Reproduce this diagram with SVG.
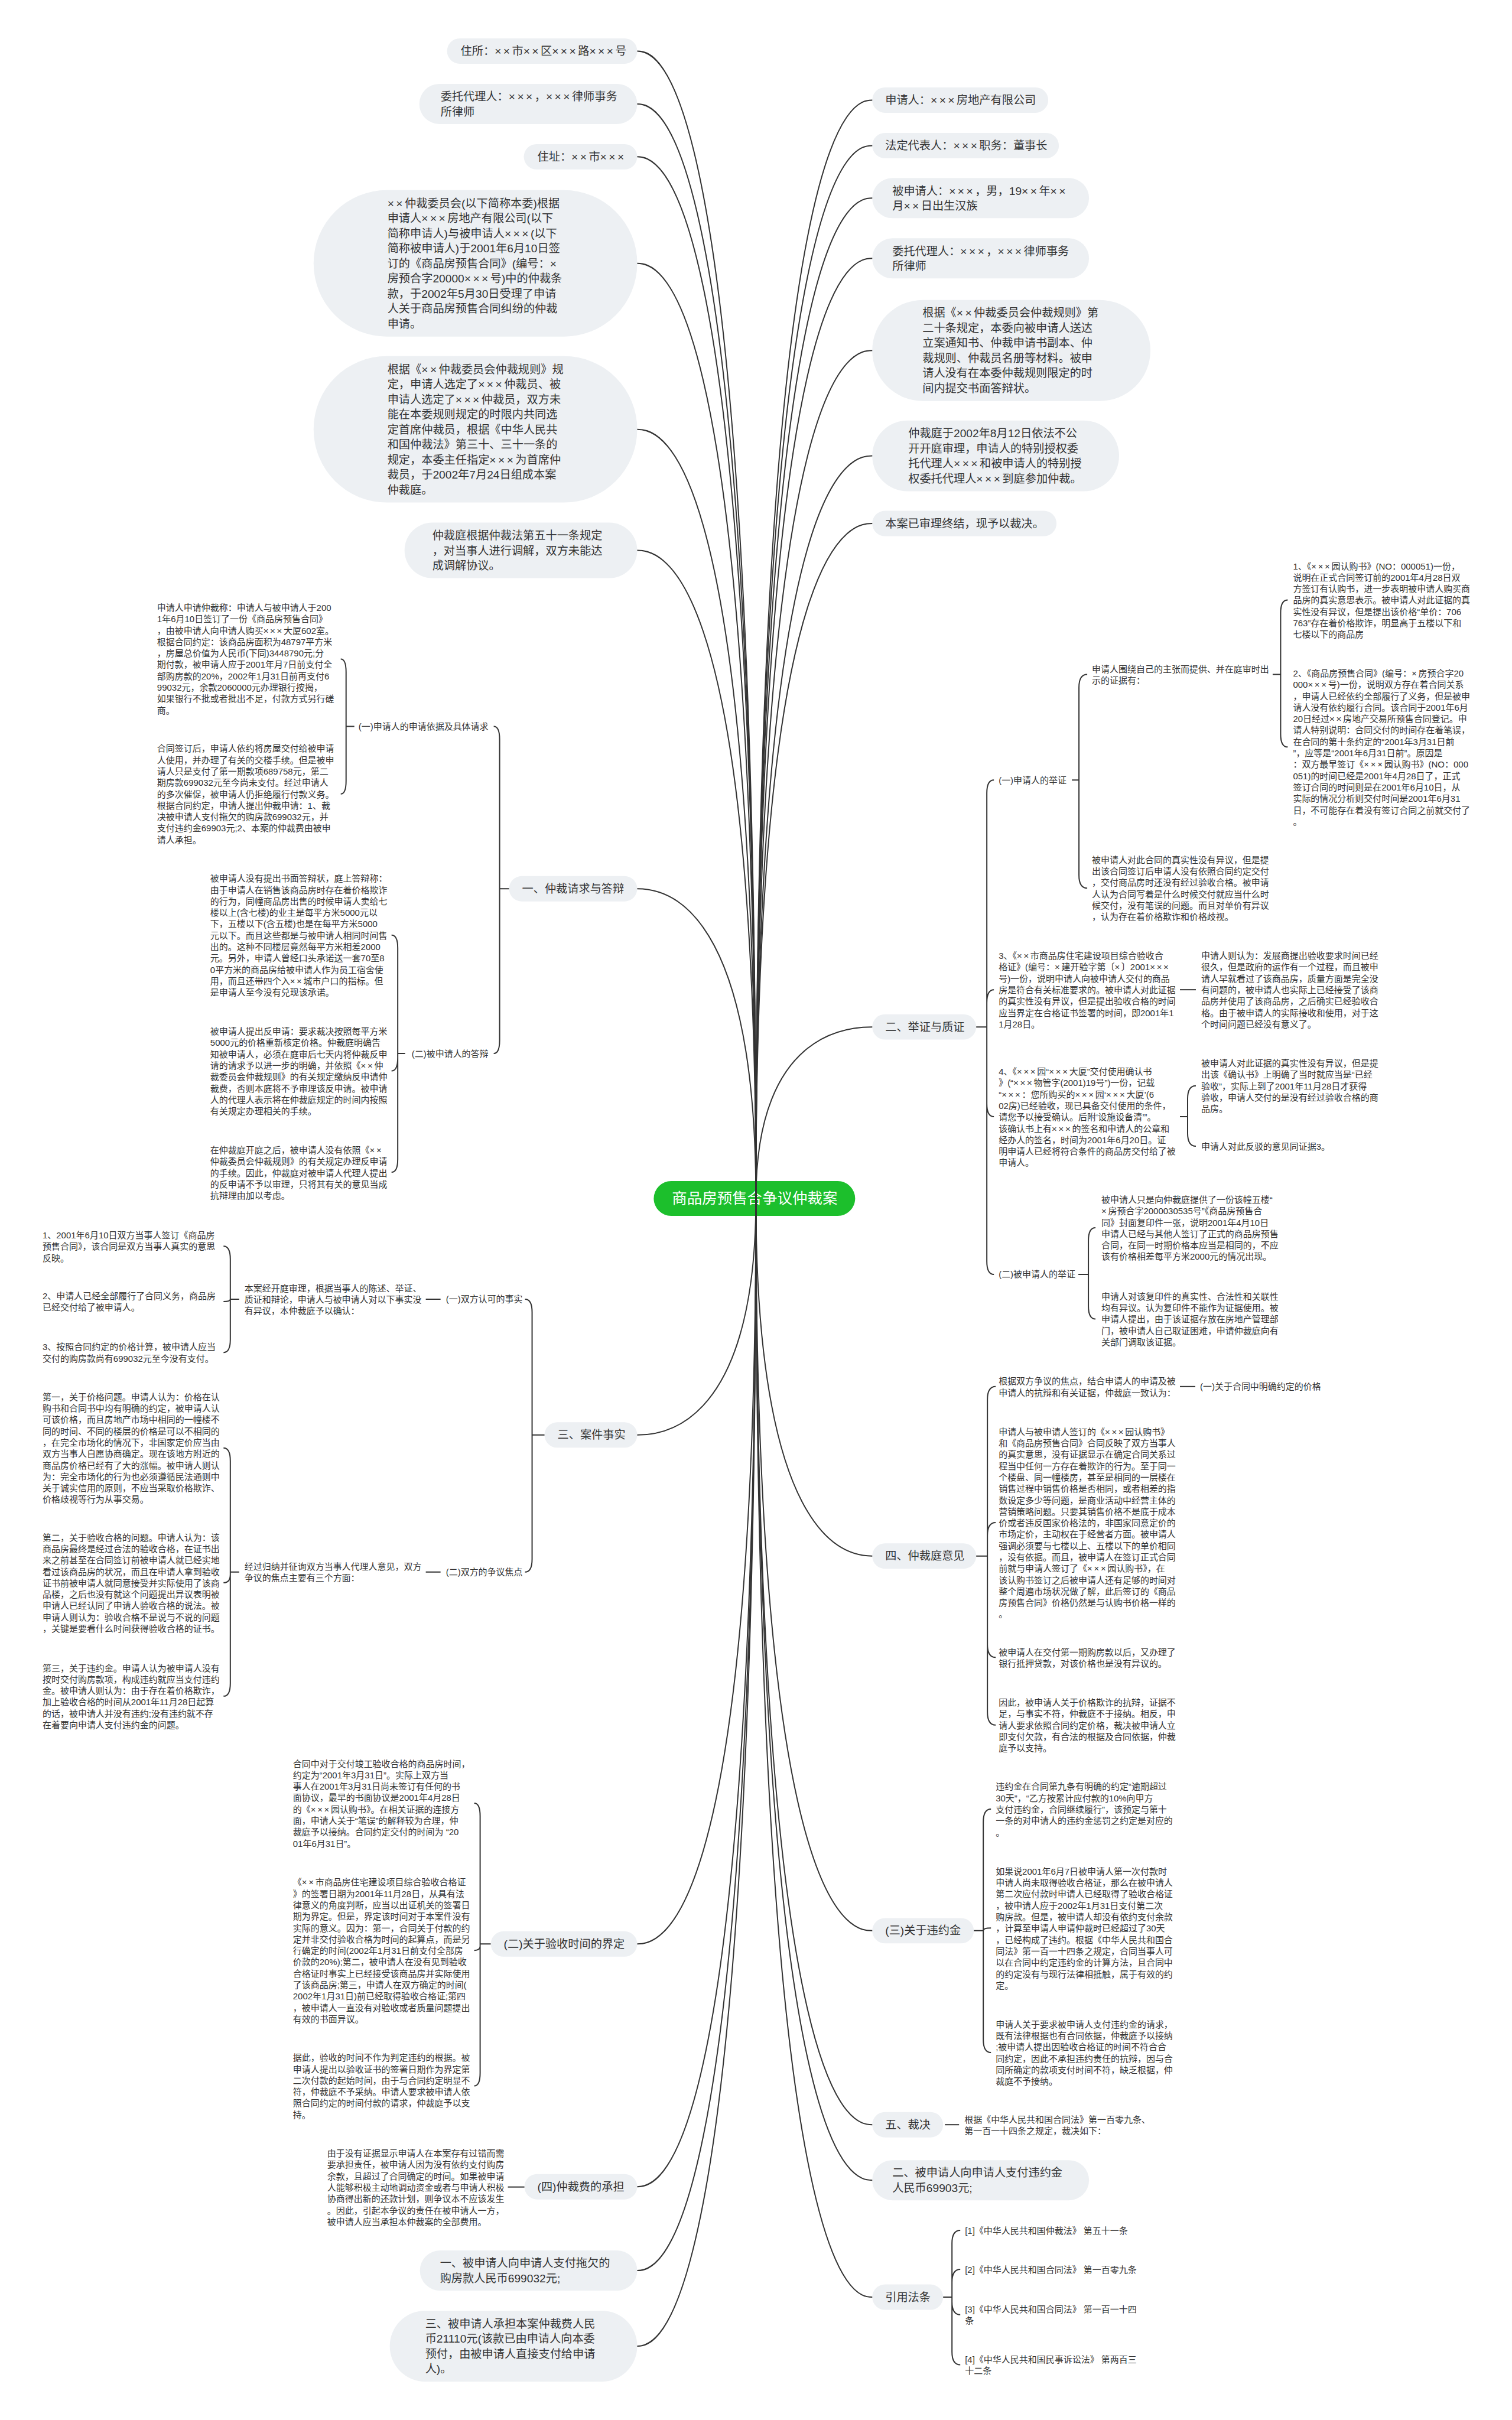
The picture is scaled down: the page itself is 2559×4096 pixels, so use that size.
<svg xmlns="http://www.w3.org/2000/svg" width="2559" height="4096" viewBox="0 0 2559 4096">
<style>
text{font-family:"Liberation Sans","Noto Sans CJK SC",sans-serif;fill:#333;dominant-baseline:central}
.b{font-size:19.2px}
.s{font-size:15px}
.e{text-anchor:end}
.x{letter-spacing:.18em}
.r{font-size:25.5px;fill:#fff;text-anchor:middle}
.n{fill:#edf0f3}
.c path{fill:none;stroke:#333;stroke-width:2}
</style>
<rect width="2559" height="4096" fill="#fff"/>
<g transform="scale(0.9995)">
<g id="root"><rect x="1107" y="2000" width="341" height="59" rx="29.5" fill="#1cbf2c"/><text class="r" x="1278" y="2029.5">商品房预售合争议仲裁案</text></g>

<g id="L1"><rect class="n" x="757" y="65" width="322" height="43" rx="21.5"/><text class="b" x="780" y="86.5">住所：<tspan class="x">××</tspan>市<tspan class="x">××</tspan>区<tspan class="x">×××</tspan>路<tspan class="x">×××</tspan>号</text></g>
<g id="L2"><rect class="n" x="710" y="142" width="369" height="68" rx="34"/><text class="b"><tspan x="746" y="163.25">委托代理人：<tspan class="x">×××</tspan>，<tspan class="x">×××</tspan>律师事务</tspan><tspan x="746" y="188.75">所律师</tspan></text></g>
<g id="L3"><rect class="n" x="887" y="244" width="192" height="43" rx="21.5"/><text class="b" x="910" y="265.5">住址：<tspan class="x">××</tspan>市<tspan class="x">×××</tspan></text></g>
<g id="L4"><rect class="n" x="531" y="322" width="548" height="248" rx="124"/><text class="b"><tspan x="656" y="344"><tspan class="x">××</tspan>仲裁委员会(以下简称本委)根据</tspan><tspan x="656" y="369.5">申请人<tspan class="x">×××</tspan>房地产有限公司(以下</tspan><tspan x="656" y="395">简称申请人)与被申请人<tspan class="x">×××</tspan>(以下</tspan><tspan x="656" y="420.5">简称被申请人)于2001年6月10日签</tspan><tspan x="656" y="446">订的《商品房预售合同》(编号：<tspan class="x">×</tspan></tspan><tspan x="656" y="471.5">房预合字20000<tspan class="x">×××</tspan>号)中的仲裁条</tspan><tspan x="656" y="497">款，于2002年5月30日受理了申请</tspan><tspan x="656" y="522.5">人关于商品房预售合同纠纷的仲裁</tspan><tspan x="656" y="548">申请。</tspan></text></g>
<g id="L5"><rect class="n" x="531" y="603" width="548" height="248" rx="124"/><text class="b"><tspan x="656" y="625">根据《<tspan class="x">××</tspan>仲裁委员会仲裁规则》规</tspan><tspan x="656" y="650.5">定，申请人选定了<tspan class="x">×××</tspan>仲裁员、被</tspan><tspan x="656" y="676">申请人选定了<tspan class="x">×××</tspan>仲裁员，双方未</tspan><tspan x="656" y="701.5">能在本委规则规定的时限内共同选</tspan><tspan x="656" y="727">定首席仲裁员，根据《中华人民共</tspan><tspan x="656" y="752.5">和国仲裁法》第三十、三十一条的</tspan><tspan x="656" y="778">规定，本委主任指定<tspan class="x">×××</tspan>为首席仲</tspan><tspan x="656" y="803.5">裁员，于2002年7月24日组成本案</tspan><tspan x="656" y="829">仲裁庭。</tspan></text></g>
<g id="L6"><rect class="n" x="685" y="885" width="394" height="94" rx="47"/><text class="b"><tspan x="732" y="906.5">仲裁庭根据仲裁法第五十一条规定</tspan><tspan x="732" y="932">，对当事人进行调解，双方未能达</tspan><tspan x="732" y="957.5">成调解协议。</tspan></text></g>

<g id="L7"><rect class="n" x="862" y="1483.5" width="217" height="43" rx="21.5"/><text class="b" x="884" y="1505">一、仲裁请求与答辩</text></g>
<g id="L7a"><text class="s e" x="827" y="1230">(一)申请人的申请依据及具体请求</text></g>
<g id="L7a1"><text class="s"><tspan x="266" y="1028.5">申请人申请仲裁称：申请人与被申请人于200</tspan><tspan x="266" y="1047.8">1年6月10日签订了一份《商品房预售合同》</tspan><tspan x="266" y="1067.1">，由被申请人向申请人购买<tspan class="x">×××</tspan>大厦602室。</tspan><tspan x="266" y="1086.4">根据合同约定：该商品房面积为48797平方米</tspan><tspan x="266" y="1105.7">，房屋总价值为人民币(下同)3448790元;分</tspan><tspan x="266" y="1125">期付款，被申请人应于2001年月7日前支付全</tspan><tspan x="266" y="1144.3">部购房款的20%，2002年1月31日前再支付6</tspan><tspan x="266" y="1163.6">99032元，余款2060000元办理银行按揭，</tspan><tspan x="266" y="1182.9">如果银行不批或者批出不足，付款方式另行磋</tspan><tspan x="266" y="1202.2">商。</tspan></text></g>
<g id="L7a2"><text class="s"><tspan x="266" y="1267">合同签订后，申请人依约将房屋交付给被申请</tspan><tspan x="266" y="1286.3">人使用，并办理了有关的交楼手续。但是被申</tspan><tspan x="266" y="1305.6">请人只是支付了第一期款项689758元，第二</tspan><tspan x="266" y="1324.9">期房款699032元至今尚未支付。经过申请人</tspan><tspan x="266" y="1344.2">的多次催促，被申请人仍拒绝履行付款义务。</tspan><tspan x="266" y="1363.5">根据合同约定，申请人提出仲裁申请：1、裁</tspan><tspan x="266" y="1382.8">决被申请人支付拖欠的购房款699032元，并</tspan><tspan x="266" y="1402.1">支付违约金69903元;2、本案的仲裁费由被申</tspan><tspan x="266" y="1421.4">请人承担。</tspan></text></g>
<g id="L7b"><text class="s e" x="827" y="1784">(二)被申请人的答辩</text></g>
<g id="L7b1"><text class="s"><tspan x="356" y="1487">被申请人没有提出书面答辩状，庭上答辩称：</tspan><tspan x="356" y="1506.3">由于申请人在销售该商品房时存在着价格欺诈</tspan><tspan x="356" y="1525.6">的行为，同幢商品房出售的时候申请人卖给七</tspan><tspan x="356" y="1544.9">楼以上(含七楼)的业主是每平方米5000元以</tspan><tspan x="356" y="1564.2">下，五楼以下(含五楼)也是在每平方米5000</tspan><tspan x="356" y="1583.5">元以下。而且这些都是与被申请人相同时间售</tspan><tspan x="356" y="1602.8">出的。这种不同楼层竟然每平方米相差2000</tspan><tspan x="356" y="1622.1">元。另外，申请人曾经口头承诺送一套70至8</tspan><tspan x="356" y="1641.4">0平方米的商品房给被申请人作为员工宿舍使</tspan><tspan x="356" y="1660.7">用，而且还带四个入<tspan class="x">××</tspan>城市户口的指标。但</tspan><tspan x="356" y="1680">是申请人至今没有兑现该承诺。</tspan></text></g>
<g id="L7b2"><text class="s"><tspan x="356" y="1746">被申请人提出反申请：要求裁决按照每平方米</tspan><tspan x="356" y="1765.3">5000元的价格重新核定价格。仲裁庭明确告</tspan><tspan x="356" y="1784.6">知被申请人，必须在庭审后七天内将仲裁反申</tspan><tspan x="356" y="1803.9">请的请求予以进一步的明确，并依照《<tspan class="x">××</tspan>仲</tspan><tspan x="356" y="1823.2">裁委员会仲裁规则》的有关规定缴纳反申请仲</tspan><tspan x="356" y="1842.5">裁费，否则本庭将不予审理该反申请。被申请</tspan><tspan x="356" y="1861.8">人的代理人表示将在仲裁庭规定的时间内按照</tspan><tspan x="356" y="1881.1">有关规定办理相关的手续。</tspan></text></g>
<g id="L7b3"><text class="s"><tspan x="356" y="1947">在仲裁庭开庭之后，被申请人没有依照《<tspan class="x">××</tspan></tspan><tspan x="356" y="1966.3">仲裁委员会仲裁规则》的有关规定办理反申请</tspan><tspan x="356" y="1985.6">的手续。因此，仲裁庭对被申请人代理人提出</tspan><tspan x="356" y="2004.9">的反申请不予以审理，只将其有关的意见当成</tspan><tspan x="356" y="2024.2">抗辩理由加以考虑。</tspan></text></g>

<g id="L8"><rect class="n" x="922" y="2408.5" width="157" height="43" rx="21.5"/><text class="b" x="944" y="2430">三、案件事实</text></g>
<g id="L8a"><text class="s e" x="885" y="2200">(一)双方认可的事实</text></g>
<g id="L8a0"><text class="s"><tspan x="414" y="2180.7">本案经开庭审理，根据当事人的陈述、举证、</tspan><tspan x="414" y="2200">质证和辩论，申请人与被申请人对以下事实没</tspan><tspan x="414" y="2219.3">有异议，本仲裁庭予以确认：</tspan></text></g>
<g id="L8a1"><text class="s"><tspan x="72" y="2091">1、2001年6月10日双方当事人签订《商品房</tspan><tspan x="72" y="2110.3">预售合同》，该合同是双方当事人真实的意思</tspan><tspan x="72" y="2129.6">反映。</tspan></text></g>
<g id="L8a2"><text class="s"><tspan x="72" y="2194.3">2、申请人已经全部履行了合同义务，商品房</tspan><tspan x="72" y="2213.6">已经交付给了被申请人。</tspan></text></g>
<g id="L8a3"><text class="s"><tspan x="72" y="2280.6">3、按照合同约定的价格计算，被申请人应当</tspan><tspan x="72" y="2299.9">交付的购房款尚有699032元至今没有支付。</tspan></text></g>
<g id="L8b"><text class="s e" x="885" y="2662">(二)双方的争议焦点</text></g>
<g id="L8b0"><text class="s"><tspan x="414" y="2652.4">经过归纳并征询双方当事人代理人意见，双方</tspan><tspan x="414" y="2671.7">争议的焦点主要有三个方面：</tspan></text></g>
<g id="L8b1"><text class="s"><tspan x="72" y="2365">第一，关于价格问题。申请人认为：价格在认</tspan><tspan x="72" y="2384.3">购书和合同书中均有明确的约定，被申请人认</tspan><tspan x="72" y="2403.6">可该价格，而且房地产市场中相同的一幢楼不</tspan><tspan x="72" y="2422.9">同的时间、不同的楼层的价格是可以不相同的</tspan><tspan x="72" y="2442.2">，在完全市场化的情况下，非国家定价应当由</tspan><tspan x="72" y="2461.5">双方当事人自愿协商确定。现在该地方附近的</tspan><tspan x="72" y="2480.8">商品房价格已经有了大的涨幅。被申请人则认</tspan><tspan x="72" y="2500.1">为：完全市场化的行为也必须遵循民法通则中</tspan><tspan x="72" y="2519.4">关于诚实信用的原则，不应当采取价格欺诈、</tspan><tspan x="72" y="2538.7">价格歧视等行为从事交易。</tspan></text></g>
<g id="L8b2"><text class="s"><tspan x="72" y="2603">第二，关于验收合格的问题。申请人认为：该</tspan><tspan x="72" y="2622.3">商品房最终是经过合法的验收合格，在证书出</tspan><tspan x="72" y="2641.6">来之前甚至在合同签订前被申请人就已经实地</tspan><tspan x="72" y="2660.9">看过该商品房的状况，而且在申请人拿到验收</tspan><tspan x="72" y="2680.2">证书前被申请人就同意接受并实际使用了该商</tspan><tspan x="72" y="2699.5">品楼，之后也没有就这个问题提出异议表明被</tspan><tspan x="72" y="2718.8">申请人已经认同了申请人验收合格的说法。被</tspan><tspan x="72" y="2738.1">申请人则认为：验收合格不是说与不说的问题</tspan><tspan x="72" y="2757.4">，关键是要看什么时间获得验收合格的证书。</tspan></text></g>
<g id="L8b3"><text class="s"><tspan x="72" y="2824">第三，关于违约金。申请人认为被申请人没有</tspan><tspan x="72" y="2843.3">按时交付购房款项，构成违约就应当支付违约</tspan><tspan x="72" y="2862.6">金。被申请人则认为：由于存在着价格欺诈，</tspan><tspan x="72" y="2881.9">加上验收合格的时间从2001年11月28日起算</tspan><tspan x="72" y="2901.2">的话，被申请人并没有违约;没有违约就不存</tspan><tspan x="72" y="2920.5">在着要向申请人支付违约金的问题。</tspan></text></g>

<g id="L9"><rect class="n" x="831" y="3270.5" width="248" height="43" rx="21.5"/><text class="b" x="853" y="3292">(二)关于验收时间的界定</text></g>
<g id="L9a"><text class="s"><tspan x="496" y="2986">合同中对于交付竣工验收合格的商品房时间，</tspan><tspan x="496" y="3005.3">约定为“2001年3月31日”。实际上双方当</tspan><tspan x="496" y="3024.6">事人在2001年3月31日尚未签订有任何的书</tspan><tspan x="496" y="3043.9">面协议，最早的书面协议是2001年4月28日</tspan><tspan x="496" y="3063.2">的《<tspan class="x">×××</tspan>园认购书》。在相关证据的连接方</tspan><tspan x="496" y="3082.5">面，申请人关于“笔误”的解释较为合理，仲</tspan><tspan x="496" y="3101.8">裁庭予以接纳。合同约定交付的时间为 “20</tspan><tspan x="496" y="3121.1">01年6月31日”。</tspan></text></g>
<g id="L9b"><text class="s"><tspan x="496" y="3187">《<tspan class="x">××</tspan>市商品房住宅建设项目综合验收合格证</tspan><tspan x="496" y="3206.3">》的签署日期为2001年11月28日，从具有法</tspan><tspan x="496" y="3225.6">律意义的角度判断，应当以出证机关的签署日</tspan><tspan x="496" y="3244.9">期为界定。但是，界定该时间对于本案件没有</tspan><tspan x="496" y="3264.2">实际的意义。因为：第一，合同关于付款的约</tspan><tspan x="496" y="3283.5">定并非交付验收合格为时间的起算点，而是另</tspan><tspan x="496" y="3302.8">行确定的时间(2002年1月31日前支付全部房</tspan><tspan x="496" y="3322.1">价款的20%);第二，被申请人在没有见到验收</tspan><tspan x="496" y="3341.4">合格证时事实上已经接受该商品房并实际使用</tspan><tspan x="496" y="3360.7">了该商品房;第三，申请人在双方确定的时间(</tspan><tspan x="496" y="3380">2002年1月31日)前已经取得验收合格证;第四</tspan><tspan x="496" y="3399.3">，被申请人一直没有对验收或者质量问题提出</tspan><tspan x="496" y="3418.6">有效的书面异议。</tspan></text></g>
<g id="L9c"><text class="s"><tspan x="496" y="3484">据此，验收的时间不作为判定违约的根据。被</tspan><tspan x="496" y="3503.3">申请人提出以验收证书的签署日期作为界定第</tspan><tspan x="496" y="3522.6">二次付款的起始时间，由于与合同约定明显不</tspan><tspan x="496" y="3541.9">符，仲裁庭不予采纳。申请人要求被申请人依</tspan><tspan x="496" y="3561.2">照合同约定的时间付款的请求，仲裁庭予以支</tspan><tspan x="496" y="3580.5">持。</tspan></text></g>

<g id="L10"><rect class="n" x="888" y="3681.5" width="191" height="43" rx="21.5"/><text class="b" x="910" y="3703">(四)仲裁费的承担</text></g>
<g id="L10a"><text class="s"><tspan x="554" y="3646">由于没有证据显示申请人在本案存有过错而需</tspan><tspan x="554" y="3665.3">要承担责任，被申请人因为没有依约支付购房</tspan><tspan x="554" y="3684.6">余款，且超过了合同确定的时间。如果被申请</tspan><tspan x="554" y="3703.9">人能够积极主动地调动资金或者与申请人积极</tspan><tspan x="554" y="3723.2">协商得出新的还款计划，则争议本不应该发生</tspan><tspan x="554" y="3742.5">。因此，引起本争议的责任在被申请人一方，</tspan><tspan x="554" y="3761.8">被申请人应当承担本仲裁案的全部费用。</tspan></text></g>
<g id="L11"><rect class="n" x="711" y="3811" width="368" height="68" rx="34"/><text class="b"><tspan x="745" y="3832.25">一、被申请人向申请人支付拖欠的</tspan><tspan x="745" y="3857.75">购房款人民币699032元;</tspan></text></g>
<g id="L12"><rect class="n" x="660" y="3913" width="419" height="120" rx="60"/><text class="b"><tspan x="720" y="3934.75">三、被申请人承担本案仲裁费人民</tspan><tspan x="720" y="3960.25">币21110元(该款已由申请人向本委</tspan><tspan x="720" y="3985.75">预付，由被申请人直接支付给申请</tspan><tspan x="720" y="4011.25">人)。</tspan></text></g>

<g id="R1"><rect class="n" x="1477" y="148" width="298" height="43" rx="21.5"/><text class="b" x="1499" y="169.5">申请人：<tspan class="x">×××</tspan>房地产有限公司</text></g>
<g id="R2"><rect class="n" x="1477" y="225" width="316" height="43" rx="21.5"/><text class="b" x="1499" y="246.5">法定代表人：<tspan class="x">×××</tspan>职务：董事长</text></g>
<g id="R3"><rect class="n" x="1477" y="301.5" width="367" height="68" rx="34"/><text class="b"><tspan x="1511" y="322.75">被申请人：<tspan class="x">×××</tspan>，男，19<tspan class="x">××</tspan>年<tspan class="x">××</tspan></tspan><tspan x="1511" y="348.25">月<tspan class="x">××</tspan>日出生汉族</tspan></text></g>
<g id="R4"><rect class="n" x="1477" y="403.5" width="367" height="68" rx="34"/><text class="b"><tspan x="1511" y="424.75">委托代理人：<tspan class="x">×××</tspan>，<tspan class="x">×××</tspan>律师事务</tspan><tspan x="1511" y="450.25">所律师</tspan></text></g>
<g id="R5"><rect class="n" x="1477" y="508" width="471" height="171" rx="85.5"/><text class="b"><tspan x="1562" y="529.75">根据《<tspan class="x">××</tspan>仲裁委员会仲裁规则》第</tspan><tspan x="1562" y="555.25">二十条规定，本委向被申请人送达</tspan><tspan x="1562" y="580.75">立案通知书、仲裁申请书副本、仲</tspan><tspan x="1562" y="606.25">裁规则、仲裁员名册等材料。被申</tspan><tspan x="1562" y="631.75">请人没有在本委仲裁规则限定的时</tspan><tspan x="1562" y="657.25">间内提交书面答辩状。</tspan></text></g>
<g id="R6"><rect class="n" x="1477" y="712" width="418" height="120" rx="60"/><text class="b"><tspan x="1538" y="733.75">仲裁庭于2002年8月12日依法不公</tspan><tspan x="1538" y="759.25">开开庭审理，申请人的特别授权委</tspan><tspan x="1538" y="784.75">托代理人<tspan class="x">×××</tspan>和被申请人的特别授</tspan><tspan x="1538" y="810.25">权委托代理人<tspan class="x">×××</tspan>到庭参加仲裁。</tspan></text></g>
<g id="R7"><rect class="n" x="1477" y="865" width="312" height="43" rx="21.5"/><text class="b" x="1499" y="886.5">本案已审理终结，现予以裁决。</text></g>

<g id="R8"><rect class="n" x="1477" y="1717.5" width="176" height="43" rx="21.5"/><text class="b" x="1499" y="1739">二、举证与质证</text></g>
<g id="R8a"><text class="s" x="1691" y="1321">(一)申请人的举证</text></g>
<g id="R8a1"><text class="s"><tspan x="1849" y="1132.4">申请人围绕自己的主张而提供、并在庭审时出</tspan><tspan x="1849" y="1151.7">示的证据有：</tspan></text></g>
<g id="R8a1i"><text class="s"><tspan x="2189.5" y="958">1、《<tspan class="x">×××</tspan>园认购书》(NO：000051)一份，</tspan><tspan x="2189.5" y="977.3">说明在正式合同签订前的2001年4月28日双</tspan><tspan x="2189.5" y="996.6">方签订有认购书，进一步表明被申请人购买商</tspan><tspan x="2189.5" y="1015.9">品房的真实意思表示。被申请人对此证据的真</tspan><tspan x="2189.5" y="1035.2">实性没有异议，但是提出该价格“单价：706</tspan><tspan x="2189.5" y="1054.5">763”存在着价格欺诈，明显高于五楼以下和</tspan><tspan x="2189.5" y="1073.8">七楼以下的商品房</tspan></text></g>
<g id="R8a1ii"><text class="s"><tspan x="2189.5" y="1139.6">2、《商品房预售合同》(编号：<tspan class="x">×</tspan>房预合字20</tspan><tspan x="2189.5" y="1158.9">000<tspan class="x">×××</tspan>号)一份，说明双方存在着合同关系</tspan><tspan x="2189.5" y="1178.2">，申请人已经依约全部履行了义务，但是被申</tspan><tspan x="2189.5" y="1197.5">请人没有依约履行合同。该合同于2001年6月</tspan><tspan x="2189.5" y="1216.8">20日经过<tspan class="x">××</tspan>房地产交易所预售合同登记。申</tspan><tspan x="2189.5" y="1236.1">请人特别说明：合同交付的时间存在着笔误，</tspan><tspan x="2189.5" y="1255.4">在合同的第十条约定的“2001年3月31日前</tspan><tspan x="2189.5" y="1274.7">”，应等是“2001年6月31日前”。原因是</tspan><tspan x="2189.5" y="1294">：双方最早签订《<tspan class="x">×××</tspan>园认购书》(NO：000</tspan><tspan x="2189.5" y="1313.3">051)的时间已经是2001年4月28日了，正式</tspan><tspan x="2189.5" y="1332.6">签订合同的时间则是在2001年6月10日，从</tspan><tspan x="2189.5" y="1351.9">实际的情况分析则交付时间是2001年6月31</tspan><tspan x="2189.5" y="1371.2">日，不可能存在着没有签订合同之前就交付了</tspan><tspan x="2189.5" y="1390.5">。</tspan></text></g>
<g id="R8a2"><text class="s"><tspan x="1849" y="1455.6">被申请人对此合同的真实性没有异议，但是提</tspan><tspan x="1849" y="1474.9">出该合同签订后申请人没有依照合同约定交付</tspan><tspan x="1849" y="1494.2">，交付商品房时还没有经过验收合格。被申请</tspan><tspan x="1849" y="1513.5">人认为合同写着是什么时候交付就应当什么时</tspan><tspan x="1849" y="1532.8">候交付，没有笔误的问题。而且对单价有异议</tspan><tspan x="1849" y="1552.1">，认为存在着价格欺诈和价格歧视。</tspan></text></g>
<g id="R8b"><text class="s"><tspan x="1691" y="1618">3、《<tspan class="x">××</tspan>市商品房住宅建设项目综合验收合</tspan><tspan x="1691" y="1637.3">格证》(编号：<tspan class="x">×</tspan>建开验字第〔<tspan class="x">×</tspan>〕2001<tspan class="x">×××</tspan></tspan><tspan x="1691" y="1656.6">号)一份，说明申请人向被申请人交付的商品</tspan><tspan x="1691" y="1675.9">房是符合有关标准要求的。被申请人对此证据</tspan><tspan x="1691" y="1695.2">的真实性没有异议，但是提出验收合格的时间</tspan><tspan x="1691" y="1714.5">应当界定在合格证书签署的时间，即2001年1</tspan><tspan x="1691" y="1733.8">1月28日。</tspan></text></g>
<g id="R8b1"><text class="s"><tspan x="2034" y="1618">申请人则认为：发展商提出验收要求时间已经</tspan><tspan x="2034" y="1637.3">很久，但是政府的运作有一个过程，而且被申</tspan><tspan x="2034" y="1656.6">请人早就看过了该商品房，质量方面是完全没</tspan><tspan x="2034" y="1675.9">有问题的，被申请人也实际上已经接受了该商</tspan><tspan x="2034" y="1695.2">品房并使用了该商品房，之后确实已经验收合</tspan><tspan x="2034" y="1714.5">格。由于被申请人的实际接收和使用，对于这</tspan><tspan x="2034" y="1733.8">个时间问题已经没有意义了。</tspan></text></g>
<g id="R8c"><text class="s"><tspan x="1691" y="1814">4、《<tspan class="x">×××</tspan>园“<tspan class="x">×××</tspan>大厦”交付使用确认书</tspan><tspan x="1691" y="1833.3">》(“<tspan class="x">×××</tspan>物管字(2001)19号”)一份，记载</tspan><tspan x="1691" y="1852.6">“<tspan class="x">×××</tspan>：您所购买的<tspan class="x">×××</tspan>园‘<tspan class="x">×××</tspan>大厦’(6</tspan><tspan x="1691" y="1871.9">02房)已经验收，现已具备交付使用的条件，</tspan><tspan x="1691" y="1891.2">请您予以接受确认。后附‘设施设备清’”。</tspan><tspan x="1691" y="1910.5">该确认书上有<tspan class="x">×××</tspan>的签名和申请人的公章和</tspan><tspan x="1691" y="1929.8">经办人的签名，时间为2001年6月20日。证</tspan><tspan x="1691" y="1949.1">明申请人已经将符合条件的商品房交付给了被</tspan><tspan x="1691" y="1968.4">申请人。</tspan></text></g>
<g id="R8c1"><text class="s"><tspan x="2034" y="1800">被申请人对此证据的真实性没有异议，但是提</tspan><tspan x="2034" y="1819.3">出该《确认书》上明确了当时就应当是“已经</tspan><tspan x="2034" y="1838.6">验收”，实际上到了2001年11月28日才获得</tspan><tspan x="2034" y="1857.9">验收，申请人交付的是没有经过验收合格的商</tspan><tspan x="2034" y="1877.2">品房。</tspan></text></g>
<g id="R8c2"><text class="s" x="2034" y="1941">申请人对此反驳的意见同证据3。</text></g>
<g id="R8d"><text class="s" x="1691" y="2158">(二)被申请人的举证</text></g>
<g id="R8d1"><text class="s"><tspan x="1865" y="2031">被申请人只是向仲裁庭提供了一份该幢五楼“</tspan><tspan x="1865" y="2050.3"><tspan class="x">×</tspan>房预合字2000030535号”《商品房预售合</tspan><tspan x="1865" y="2069.6">同》封面复印件一张，说明2001年4月10日</tspan><tspan x="1865" y="2088.9">申请人已经与其他人签订了正式的商品房预售</tspan><tspan x="1865" y="2108.2">合同，在同一时期价格本应当是相同的，不应</tspan><tspan x="1865" y="2127.5">该有价格相差每平方米2000元的情况出现。</tspan></text></g>
<g id="R8d2"><text class="s"><tspan x="1865" y="2195">申请人对该复印件的真实性、合法性和关联性</tspan><tspan x="1865" y="2214.3">均有异议。认为复印件不能作为证据使用。被</tspan><tspan x="1865" y="2233.6">申请人提出，由于该证据存放在房地产管理部</tspan><tspan x="1865" y="2252.9">门，被申请人自己取证困难，申请仲裁庭向有</tspan><tspan x="1865" y="2272.2">关部门调取该证据。</tspan></text></g>

<g id="R9"><rect class="n" x="1477" y="2613.5" width="176" height="43" rx="21.5"/><text class="b" x="1499" y="2635">四、仲裁庭意见</text></g>
<g id="R9a"><text class="s"><tspan x="1691" y="2338.6">根据双方争议的焦点，结合申请人的申请及被</tspan><tspan x="1691" y="2357.9">申请人的抗辩和有关证据，仲裁庭一致认为：</tspan></text></g>
<g id="R9a1"><text class="s" x="2032" y="2348">(一)关于合同中明确约定的价格</text></g>
<g id="R9b"><text class="s"><tspan x="1691" y="2424">申请人与被申请人签订的《<tspan class="x">×××</tspan>园认购书》</tspan><tspan x="1691" y="2443.3">和《商品房预售合同》合同反映了双方当事人</tspan><tspan x="1691" y="2462.6">的真实意思，没有证据显示在确定合同关系过</tspan><tspan x="1691" y="2481.9">程当中任何一方存在着欺诈的行为。至于同一</tspan><tspan x="1691" y="2501.2">个楼盘、同一幢楼房，甚至是相同的一层楼在</tspan><tspan x="1691" y="2520.5">销售过程中销售价格是否相同，或者相差的指</tspan><tspan x="1691" y="2539.8">数设定多少等问题，是商业活动中经营主体的</tspan><tspan x="1691" y="2559.1">营销策略问题。只要其销售价格不是底于成本</tspan><tspan x="1691" y="2578.4">价或者违反国家价格法的，非国家同意定价的</tspan><tspan x="1691" y="2597.7">市场定价，主动权在于经营者方面。被申请人</tspan><tspan x="1691" y="2617">强调必须要与七楼以上、五楼以下的单价相同</tspan><tspan x="1691" y="2636.3">，没有依据。而且，被申请人在签订正式合同</tspan><tspan x="1691" y="2655.6">前就与申请人签订了《<tspan class="x">×××</tspan>园认购书》，在</tspan><tspan x="1691" y="2674.9">该认购书签订之后被申请人还有足够的时间对</tspan><tspan x="1691" y="2694.2">整个周遍市场状况做了解，此后签订的《商品</tspan><tspan x="1691" y="2713.5">房预售合同》价格仍然是与认购书价格一样的</tspan><tspan x="1691" y="2732.8">。</tspan></text></g>
<g id="R9c"><text class="s"><tspan x="1691" y="2797">被申请人在交付第一期购房款以后，又办理了</tspan><tspan x="1691" y="2816.3">银行抵押贷款，对该价格也是没有异议的。</tspan></text></g>
<g id="R9d"><text class="s"><tspan x="1691" y="2882.6">因此，被申请人关于价格欺诈的抗辩，证据不</tspan><tspan x="1691" y="2901.9">足，与事实不符，仲裁庭不于接纳。相反，申</tspan><tspan x="1691" y="2921.2">请人要求依照合同约定价格，裁决被申请人立</tspan><tspan x="1691" y="2940.5">即支付欠款，有合法的根据及合同依据，仲裁</tspan><tspan x="1691" y="2959.8">庭予以支持。</tspan></text></g>

<g id="R10"><rect class="n" x="1477" y="3248" width="172" height="43" rx="21.5"/><text class="b" x="1499" y="3269.5">(三)关于违约金</text></g>
<g id="R10a"><text class="s"><tspan x="1686" y="3025">违约金在合同第九条有明确的约定“逾期超过</tspan><tspan x="1686" y="3044.3">30天”，“乙方按累计应付款的10%向甲方</tspan><tspan x="1686" y="3063.6">支付违约金，合同继续履行”，该预定与第十</tspan><tspan x="1686" y="3082.9">一条的对申请人的违约金惩罚之约定是对应的</tspan><tspan x="1686" y="3102.2">。</tspan></text></g>
<g id="R10b"><text class="s"><tspan x="1686" y="3168.5">如果说2001年6月7日被申请人第一次付款时</tspan><tspan x="1686" y="3187.8">申请人尚未取得验收合格证，那么在被申请人</tspan><tspan x="1686" y="3207.1">第二次应付款时申请人已经取得了验收合格证</tspan><tspan x="1686" y="3226.4">，被申请人应于2002年1月31日支付第二次</tspan><tspan x="1686" y="3245.7">购房款。但是，被申请人却没有依约支付余款</tspan><tspan x="1686" y="3265">，计算至申请人申请仲裁时已经超过了30天</tspan><tspan x="1686" y="3284.3">，已经构成了违约。根据《中华人民共和国合</tspan><tspan x="1686" y="3303.6">同法》第一百一十四条之规定，合同当事人可</tspan><tspan x="1686" y="3322.9">以在合同中约定违约金的计算方法，且合同中</tspan><tspan x="1686" y="3342.2">的约定没有与现行法律相抵触，属于有效的约</tspan><tspan x="1686" y="3361.5">定。</tspan></text></g>
<g id="R10c"><text class="s"><tspan x="1686" y="3427.5">申请人关于要求被申请人支付违约金的请求，</tspan><tspan x="1686" y="3446.8">既有法律根据也有合同依据，仲裁庭予以接纳</tspan><tspan x="1686" y="3466.1">;被申请人提出因验收合格证的时间不符合合</tspan><tspan x="1686" y="3485.4">同约定，因此不承担违约责任的抗辩，因与合</tspan><tspan x="1686" y="3504.7">同所确定的款项支付时间不符，缺乏根据，仲</tspan><tspan x="1686" y="3524">裁庭不予接纳。</tspan></text></g>

<g id="R11"><rect class="n" x="1477" y="3576.5" width="120" height="43" rx="21.5"/><text class="b" x="1499" y="3598">五、裁决</text></g>
<g id="R11a"><text class="s"><tspan x="1633" y="3588.4">根据《中华人民共和国合同法》第一百零九条、</tspan><tspan x="1633" y="3607.7">第一百一十四条之规定，裁决如下：</tspan></text></g>
<g id="R12"><rect class="n" x="1477" y="3658" width="367" height="68" rx="34"/><text class="b"><tspan x="1511" y="3679.25">二、被申请人向申请人支付违约金</tspan><tspan x="1511" y="3704.75">人民币69903元;</tspan></text></g>
<g id="R13"><rect class="n" x="1477" y="3868.5" width="120" height="43" rx="21.5"/><text class="b" x="1499" y="3890">引用法条</text></g>
<g id="R13a"><text class="s" x="1634" y="3777">[1]《中华人民共和国仲裁法》 第五十一条</text></g>
<g id="R13b"><text class="s" x="1634" y="3843">[2]《中华人民共和国合同法》 第一百零九条</text></g>
<g id="R13c"><text class="s"><tspan x="1634" y="3910">[3]《中华人民共和国合同法》 第一百一十四</tspan><tspan x="1634" y="3929.3">条</tspan></text></g>
<g id="R13d"><text class="s"><tspan x="1634" y="3995">[4]《中华人民共和国民事诉讼法》 第两百三</tspan><tspan x="1634" y="4014.3">十二条</tspan></text></g>

<g id="connectors" class="c">
<path d="M1280,2030C1280,86.5 1109,86.5 1079,86.5"/>
<path d="M1280,2030C1280,176 1109,176 1079,176"/>
<path d="M1280,2030C1280,265.5 1109,265.5 1079,265.5"/>
<path d="M1280,2030C1280,446 1109,446 1079,446"/>
<path d="M1280,2030C1280,727 1109,727 1079,727"/>
<path d="M1280,2030C1280,932 1109,932 1079,932"/>
<path d="M1280,2030C1280,1505 1109,1505 1079,1505"/>
<path d="M1280,2030C1280,2430 1109,2430 1079,2430"/>
<path d="M1280,2030C1280,3292 1109,3292 1079,3292"/>
<path d="M1280,2030C1280,3703 1109,3703 1079,3703"/>
<path d="M1280,2030C1280,3845 1109,3845 1079,3845"/>
<path d="M1280,2030C1280,3973 1109,3973 1079,3973"/>
<path d="M1280,2030C1280,169.5 1447,169.5 1477,169.5"/>
<path d="M1280,2030C1280,246.5 1447,246.5 1477,246.5"/>
<path d="M1280,2030C1280,335.5 1447,335.5 1477,335.5"/>
<path d="M1280,2030C1280,437.5 1447,437.5 1477,437.5"/>
<path d="M1280,2030C1280,593.5 1447,593.5 1477,593.5"/>
<path d="M1280,2030C1280,772 1447,772 1477,772"/>
<path d="M1280,2030C1280,886.5 1447,886.5 1477,886.5"/>
<path d="M1280,2030C1280,1739 1447,1739 1477,1739"/>
<path d="M1280,2030C1280,2635 1447,2635 1477,2635"/>
<path d="M1280,2030C1280,3269.5 1447,3269.5 1477,3269.5"/>
<path d="M1280,2030C1280,3598 1447,3598 1477,3598"/>
<path d="M1280,2030C1280,3692 1447,3692 1477,3692"/>
<path d="M1280,2030C1280,3890 1447,3890 1477,3890"/>

<path d="M862,1505H846M846,1505V1252Q846,1230 836,1230M846,1505V1762Q846,1784 836,1784"/>
<path d="M600,1230H586M586,1230V1138Q586,1116 577,1116M586,1230V1322.5Q586,1344.5 577,1344.5"/>
<path d="M686,1784H673.5M673.5,1784V1605.5Q673.5,1583.5 663,1583.5M673.5,1784V1791.5Q673.5,1813.5 663,1813.5M673.5,1784V1963Q673.5,1985 663,1985"/>
<path d="M922,2430H901M901,2430V2222Q901,2200 889,2200M901,2430V2640Q901,2662 889,2662"/>
<path d="M746,2200H721M746,2662H721"/>
<path d="M405,2200H390M390,2200V2132.3Q390,2110.3 378.5,2110.3M390,2200Q390,2204 378.5,2204M390,2200V2268.3Q390,2290.3 378.5,2290.3"/>
<path d="M405,2662H390M390,2662V2473.9Q390,2451.9 378.5,2451.9M390,2662V2666Q390,2680.2 378.5,2680.2M390,2662V2850.3Q390,2872.3 378.5,2872.3"/>
<path d="M831,3292H813M813,3292V3075.5Q813,3053.5 803,3053.5M813,3292V3296Q813,3302.8 803,3302.8M813,3292V3510.3Q813,3532.3 803,3532.3"/>
<path d="M888,3703.5H860"/>

<path d="M1653,1739H1671M1671,1739V1343Q1671,1321 1683,1321M1671,1739V1698Q1671,1676 1683,1676M1671,1739V1869Q1671,1891 1683,1891M1671,1739V2136Q1671,2158 1683,2158"/>
<path d="M1998,1676H2025"/>
<path d="M1815,1321H1827M1827,1321V1164Q1827,1142 1841,1142M1827,1321V1482Q1827,1504 1841,1504"/>
<path d="M2155,1142H2168.5M2168.5,1142V1038Q2168.5,1016 2180.5,1016M2168.5,1142V1243Q2168.5,1265 2180.5,1265"/>
<path d="M1998,1891H2011M2011,1891V1860.6Q2011,1838.6 2025,1838.6M2011,1891V1919Q2011,1941 2025,1941"/>
<path d="M1826,2158H1843M1843,2158V2101Q1843,2079 1855,2079M1843,2158V2211.6Q1843,2233.6 1855,2233.6"/>
<path d="M1653,2635H1672M1672,2635V2370Q1672,2348 1686,2348M1672,2635V2600.4Q1672,2578.4 1686,2578.4M1672,2635V2784.7Q1672,2806.7 1686,2806.7M1672,2635V2899.2Q1672,2921.2 1686,2921.2"/>
<path d="M1998,2348H2024"/>
<path d="M1649,3269.5H1665M1665,3269.5V3085.6Q1665,3063.6 1678,3063.6M1665,3269.5Q1665,3265 1678,3265M1665,3269.5V3453.8Q1665,3475.8 1678,3475.8"/>
<path d="M1600,3598H1624"/>
<path d="M1597,3890H1612M1612,3890V3799Q1612,3777 1626,3777M1612,3890V3865Q1612,3843 1626,3843M1612,3890V3897.6Q1612,3919.6 1626,3919.6M1612,3890V3982.6Q1612,4004.6 1626,4004.6"/>
</g>
</g>
</svg>
